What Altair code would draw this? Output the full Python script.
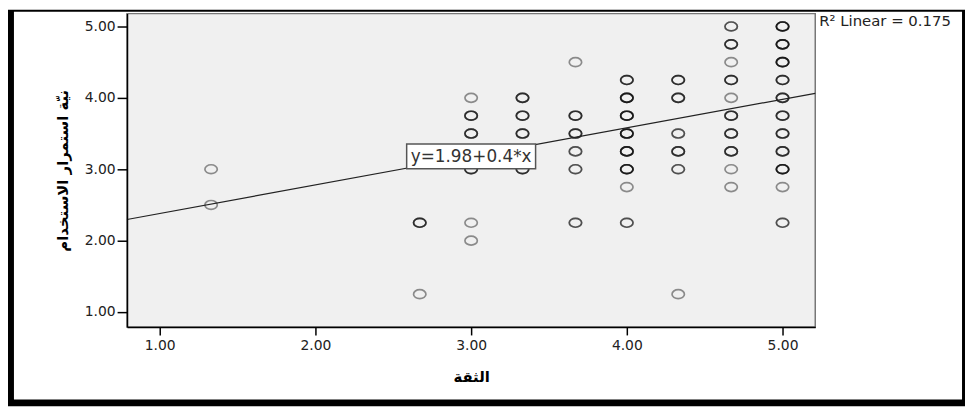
import altair as alt
import pandas as pd

# ---- data ----
pt_x = [1.33, 1.33,
        2.67, 2.67,
        3.00, 3.00, 3.00, 3.00, 3.00, 3.00,
        3.33, 3.33, 3.33, 3.33,
        3.67, 3.67, 3.67, 3.67, 3.67, 3.67,
        4.00, 4.00, 4.00, 4.00, 4.00, 4.00, 4.00, 4.00,
        4.33, 4.33, 4.33, 4.33, 4.33, 4.33,
        4.67, 4.67, 4.67, 4.67, 4.67, 4.67, 4.67, 4.67, 4.67, 4.67,
        5.00, 5.00, 5.00, 5.00, 5.00, 5.00, 5.00, 5.00, 5.00, 5.00, 5.00]
pt_y = [3.00, 2.50,
        2.25, 1.25,
        4.00, 3.75, 3.50, 3.00, 2.25, 2.00,
        4.00, 3.75, 3.50, 3.00,
        4.50, 3.75, 3.50, 3.25, 3.00, 2.25,
        4.25, 4.00, 3.75, 3.50, 3.25, 3.00, 2.75, 2.25,
        4.25, 4.00, 3.50, 3.25, 3.00, 1.25,
        5.00, 4.75, 4.50, 4.25, 4.00, 3.75, 3.50, 3.25, 3.00, 2.75,
        5.00, 4.75, 4.50, 4.25, 4.00, 3.75, 3.50, 3.25, 3.00, 2.75, 2.25]
# how many cases overlap at each position (darker circles)
pt_n = [1, 1,
        3, 1,
        1, 3, 3, 3, 1, 1,
        3, 3, 3, 3,
        1, 3, 3, 2, 2, 2,
        3, 4, 4, 4, 4, 4, 1, 2,
        3, 3, 2, 3, 2, 1,
        2, 3, 1, 3, 1, 3, 3, 3, 1, 1,
        4, 4, 4, 3, 3, 3, 3, 3, 4, 1, 2]

intercept = 1.98
slope = 0.4
eq_label = "y=1.98+0.4*x"
r2_label = "R² Linear = 0.175"
x_title = "الثقة"
y_title = "نيّة استمرار الاستخدام"
tick_vals = [1, 2, 3, 4, 5]
x_dom = [0.79, 5.21]
y_dom = [0.79, 5.18]
eq_x = 3.0

# ---- build tables ----
rows = []
for xv, yv, n in zip(pt_x, pt_y, pt_n):
    for k in range(n):
        rows.append({"x": xv, "y": yv, "k": k})
pts = pd.DataFrame(rows)
line_df = pd.DataFrame({"x": x_dom, "y": [intercept + slope * v for v in x_dom]})
eq_df = pd.DataFrame({"x": [eq_x], "y": [intercept + slope * eq_x], "t": [eq_label]})
one = pd.DataFrame({"a": [0]})

W, H = 694, 316
PL, PT, PR, PB = 120, 4, 151, 80
FONT = "DejaVu Sans"
ELLIPSE = "M-1.25,0A1.25,0.9 0 1,0 1.25,0A1.25,0.9 0 1,0 -1.25,0Z"

xs = alt.Scale(domain=x_dom, nice=False, zero=False)
ys = alt.Scale(domain=y_dom, nice=False, zero=False)

frame_black = alt.Chart(one).mark_rect(color="black").encode(
    x=alt.value(-PL), x2=alt.value(W + PR), y=alt.value(-PT), y2=alt.value(H + PB))
frame_white = alt.Chart(one).mark_rect(color="white").encode(
    x=alt.value(-PL + 6), x2=alt.value(W + PR - 3), y=alt.value(-PT + 2), y2=alt.value(H + PB - 7))
plot_bg = alt.Chart(one).mark_rect(fill="#f0f0f0", stroke="#777777", strokeWidth=1.5).encode(
    x=alt.value(0), x2=alt.value(W), y=alt.value(0), y2=alt.value(H))

points = alt.Chart(pts).mark_point(
    shape=ELLIPSE, size=100, filled=False, stroke="black", strokeWidth=1.7, strokeOpacity=0.6
).encode(
    x=alt.X("x:Q", scale=xs, axis=alt.Axis(
        values=tick_vals, format=".2f", title=x_title, tickSize=8, labelPadding=4,
        titlePadding=17, grid=False, zindex=1)),
    y=alt.Y("y:Q", scale=ys, axis=alt.Axis(
        values=tick_vals, format=".2f", title=y_title, tickSize=10, labelPadding=2,
        titlePadding=14, grid=False, zindex=1)),
)

fit = alt.Chart(line_df).mark_line(color="#222222", strokeWidth=1.2).encode(
    x=alt.X("x:Q", scale=xs), y=alt.Y("y:Q", scale=ys))

eq_box = alt.Chart(eq_df).mark_rect(
    fill="white", stroke="#555555", strokeWidth=1.5, width=130, height=25
).encode(x=alt.X("x:Q", scale=xs), y=alt.Y("y:Q", scale=ys))
eq_text = alt.Chart(eq_df).mark_text(
    font=FONT, fontSize=17, color="#333333", align="center", baseline="middle", dy=1
).encode(x=alt.X("x:Q", scale=xs), y=alt.Y("y:Q", scale=ys), text="t:N")

r2_text = alt.Chart(one).mark_text(
    font=FONT, fontSize=15, color="#222222", align="left", baseline="middle"
).encode(x=alt.value(W + 4), y=alt.value(7), text=alt.value(r2_label))

chart = alt.layer(
    frame_black, frame_white, plot_bg, points, fit, eq_box, eq_text, r2_text
).properties(
    width=W, height=H,
    padding={"left": PL, "top": PT, "right": PR, "bottom": PB},
    autosize=alt.AutoSizeParams(type="none"),
    background="white",
).configure_view(strokeWidth=0).configure_axis(
    labelFont=FONT, labelFontSize=14, labelColor="#222222",
    titleFont=FONT, titleFontSize=15, titleFontWeight="bold", titleColor="black",
    domainColor="black", domainWidth=1.5, tickColor="black", tickWidth=1.5,
)

chart.save("out.html", embed_options={"renderer": "svg", "actions": False})
